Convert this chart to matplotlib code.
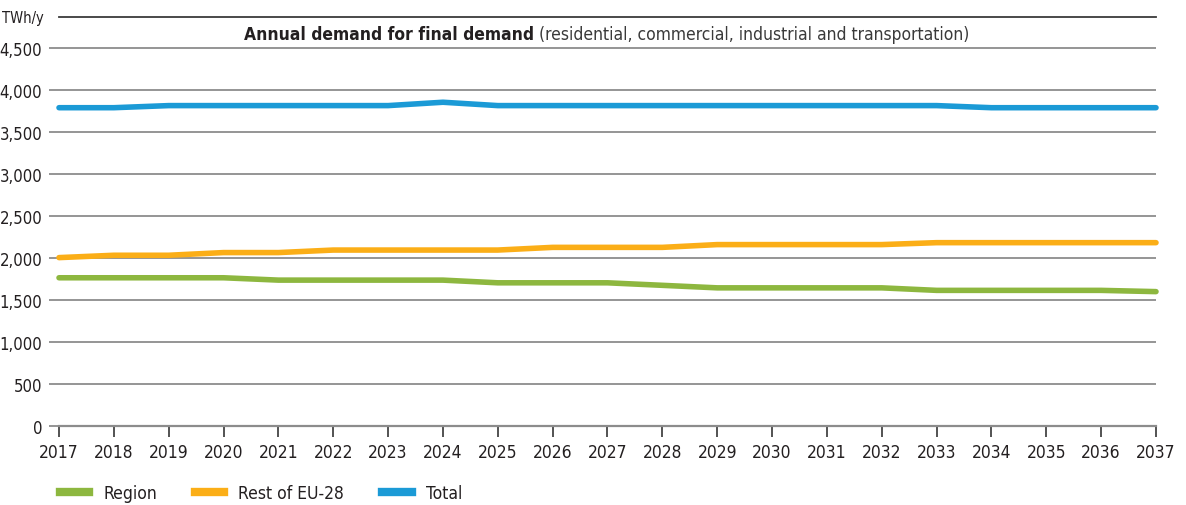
import matplotlib
matplotlib.use('Agg')
import matplotlib.pyplot as plt
from matplotlib import font_manager
from matplotlib.lines import Line2D

# ── Data ──────────────────────────────────────────────────────────────────────
years = list(range(2017, 2038))
region = [1765, 1765, 1765, 1765, 1737, 1737, 1737, 1737, 1705, 1705, 1705,
          1675, 1645, 1645, 1645, 1645, 1615, 1615, 1615, 1615, 1600]
rest_eu = [2005, 2033, 2033, 2065, 2065, 2095, 2095, 2095, 2095, 2127, 2127,
           2127, 2160, 2160, 2160, 2160, 2183, 2183, 2183, 2183, 2183]
total = [3790, 3790, 3815, 3815, 3815, 3815, 3815, 3855, 3815, 3815, 3815,
         3815, 3815, 3815, 3815, 3815, 3815, 3790, 3790, 3790, 3790]
series_names = ['Region', 'Rest of EU-28', 'Total']
y_ticks = [0, 500, 1000, 1500, 2000, 2500, 3000, 3500, 4000, 4500]

# ── Style ─────────────────────────────────────────────────────────────────────
GREEN = '#8db73f'
ORANGE = '#fbae17'
BLUE = '#1b9ad6'
GRID = '#8c8c8c'
TEXT = '#231f20'

names = {f.name for f in font_manager.fontManager.ttflist}
if 'Liberation Sans Narrow' in names:
    plt.rcParams['font.family'] = ['Liberation Sans Narrow', 'DejaVu Sans']
else:
    plt.rcParams['font.family'] = ['DejaVu Sans']
    plt.rcParams['font.stretch'] = 'condensed'

fig = plt.figure(figsize=(11.86, 5.06), dpi=100)
ax = fig.add_axes([59 / 1186, 79 / 506, 1097 / 1186, 409 / 506])

for vals, col in zip([region, rest_eu, total], [GREEN, ORANGE, BLUE]):
    ax.plot(years, vals, color=col, lw=4, solid_capstyle='round',
            solid_joinstyle='round', zorder=3, clip_on=False)

ax.set_xlim(2017, 2037)
ax.set_ylim(0, 4870)
ax.set_xticks(years)
ax.set_xticklabels([str(y) for y in years])
ax.set_yticks(y_ticks)
ax.set_yticklabels([f'{v:,}' for v in y_ticks])
ax.yaxis.grid(True, color=GRID, lw=1.3, zorder=1)
ax.set_axisbelow(True)

for s in ['left', 'right']:
    ax.spines[s].set_visible(False)
ax.spines['bottom'].set_color(GRID)
ax.spines['bottom'].set_linewidth(1.6)
ax.spines['top'].set_color('#3a3a3a')
ax.spines['top'].set_linewidth(1.3)

ax.tick_params(axis='y', length=7, width=1.3, color=GRID, labelsize=12,
               labelcolor=TEXT, pad=5)
ax.tick_params(axis='x', length=8, width=1.3, color='#444444', labelsize=12.5,
               labelcolor=TEXT, pad=4, direction='out')

# unit label
fig.text(44 / 1186, 1 - 18 / 506, 'TWh/y', ha='right', va='center',
         fontsize=10.5, color=TEXT)

# title: bold part + normal part, centred together
t1 = fig.text(0, 1 - 35 / 506, 'Annual demand for final demand', ha='left',
              va='center', fontsize=12.5, fontweight='bold', color=TEXT)
t2 = fig.text(0, 1 - 35 / 506,
              ' (residential, commercial, industrial and transportation)',
              ha='left', va='center', fontsize=12.5, color='#3a3a3a')
fig.canvas.draw()
r = fig.canvas.get_renderer()
w1 = t1.get_window_extent(r).width
w2 = t2.get_window_extent(r).width
x0 = 607 - (w1 + w2) / 2
t1.set_x(x0 / 1186)
t2.set_x((x0 + w1) / 1186)

# legend
handles = [Line2D([0], [0], color=c, lw=6) for c in [GREEN, ORANGE, BLUE]]
fig.legend(handles, series_names, loc='center left',
           bbox_to_anchor=(44 / 1186, 1 - 494 / 506), ncol=3, frameon=False,
           fontsize=12.5, handlelength=1.7, handletextpad=0.8,
           columnspacing=2.2, labelcolor=TEXT)

fig.savefig('out.png', dpi=100)
